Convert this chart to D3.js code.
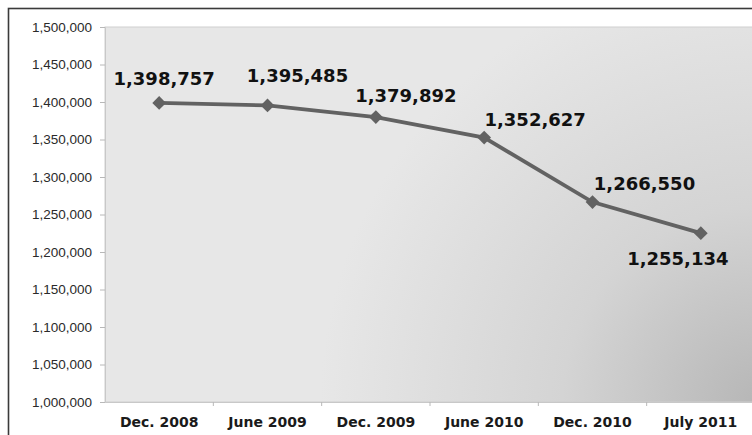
<!DOCTYPE html>
<html>
<head>
<meta charset="utf-8">
<script src="https://cdn.jsdelivr.net/npm/d3@7"></script>
<style>
  html, body { margin: 0; padding: 0; background: #fff; }
</style>
</head>
<body>
<script>
const periods = ['Dec. 2008', 'June 2009', 'Dec. 2009', 'June 2010', 'Dec. 2010', 'July 2011'];
// plotted values (the last point is drawn lower than its printed label)
const enrollment = [1398757, 1395485, 1379892, 1352627, 1266550, 1225134];
const pointLabels = ['1,398,757', '1,395,485', '1,379,892', '1,352,627', '1,266,550', '1,255,134'];
const yTicks = [1000000, 1050000, 1100000, 1150000, 1200000, 1250000, 1300000, 1350000, 1400000, 1450000, 1500000];

// hand-placed label offsets (dx, dy) from each marker
const labelOffsets = [[5, -18], [30, -23], [30, -15], [51, -12], [52, -12], [-23, 32]];

const width = 752;
const height = 435;

const svg = d3.select('body')
  .append('svg')
  .attr('width', width)
  .attr('height', height)
  .style('display', 'block');

const plotL = 105, plotT = 27, plotR = 755, plotB = 402;

// outer frame
svg.append('rect')
  .attr('x', 8.5).attr('y', 8.5)
  .attr('width', width + 20).attr('height', height + 20)
  .attr('fill', '#fff')
  .attr('stroke', '#3a3a3a')
  .attr('stroke-width', 1.6);

const defs = svg.append('defs');
const grad = defs.append('radialGradient')
  .attr('id', 'bg')
  .attr('gradientUnits', 'userSpaceOnUse')
  .attr('cx', 760).attr('cy', 405).attr('r', 440);
grad.append('stop').attr('offset', 0).attr('stop-color', '#b6b6b6');
grad.append('stop').attr('offset', 0.45).attr('stop-color', '#d4d4d4');
grad.append('stop').attr('offset', 1).attr('stop-color', '#e7e7e7');

svg.append('rect')
  .attr('x', plotL).attr('y', plotT)
  .attr('width', plotR - plotL).attr('height', plotB - plotT)
  .attr('fill', 'url(#bg)')
  .attr('stroke', '#cfcfcf')
  .attr('stroke-width', 1);

const x = d3.scaleBand().domain(periods).range([plotL, plotR]);
const y = d3.scaleLinear().domain([1000000, 1500000]).range([plotB, plotT]);

const yAxis = svg.append('g')
  .attr('transform', `translate(${plotL},0)`)
  .call(d3.axisLeft(y).tickValues(yTicks).tickSize(5).tickPadding(8).tickFormat(d3.format(',')));
yAxis.select('.domain').attr('stroke', '#c8c8c8');
yAxis.selectAll('.tick line').attr('stroke', '#b8b8b8');
yAxis.selectAll('text')
  .attr('fill', '#2a2a2a')
  .style('font-family', '"Liberation Sans", Arial, sans-serif')
  .style('font-size', '13.5px');

const xAxis = svg.append('g')
  .attr('transform', `translate(0,${plotB})`)
  .call(d3.axisBottom(x).tickSize(0).tickPadding(15));
xAxis.select('.domain').attr('stroke', '#c8c8c8');
xAxis.selectAll('text')
  .attr('fill', '#1a1a1a')
  .style('font-family', '"DejaVu Sans", Verdana, sans-serif')
  .style('font-weight', 'bold')
  .style('font-size', '14px');

// small ticks between categories
svg.append('g')
  .selectAll('line')
  .data(periods.slice(1))
  .join('line')
  .attr('x1', d => x(d)).attr('x2', d => x(d))
  .attr('y1', plotB).attr('y2', plotB + 4)
  .attr('stroke', '#b8b8b8');

const cx = d => x(d) + x.bandwidth() / 2;

const line = d3.line()
  .x((d, i) => cx(periods[i]))
  .y(d => y(d));

svg.append('path')
  .datum(enrollment)
  .attr('d', line)
  .attr('fill', 'none')
  .attr('stroke', '#626262')
  .attr('stroke-width', 3.8);

svg.append('g')
  .selectAll('path')
  .data(enrollment)
  .join('path')
  .attr('d', d3.symbol(d3.symbolDiamond2, 120))
  .attr('transform', (d, i) => `translate(${cx(periods[i])},${y(d)})`)
  .attr('fill', '#626262');

svg.append('g')
  .selectAll('text')
  .data(enrollment)
  .join('text')
  .attr('x', (d, i) => cx(periods[i]) + labelOffsets[i][0])
  .attr('y', (d, i) => y(d) + labelOffsets[i][1])
  .attr('text-anchor', 'middle')
  .attr('fill', '#111')
  .style('font-family', '"DejaVu Sans", Verdana, sans-serif')
  .style('font-weight', 'bold')
  .style('font-size', '18px')
  .text((d, i) => pointLabels[i]);
</script>
</body>
</html>
